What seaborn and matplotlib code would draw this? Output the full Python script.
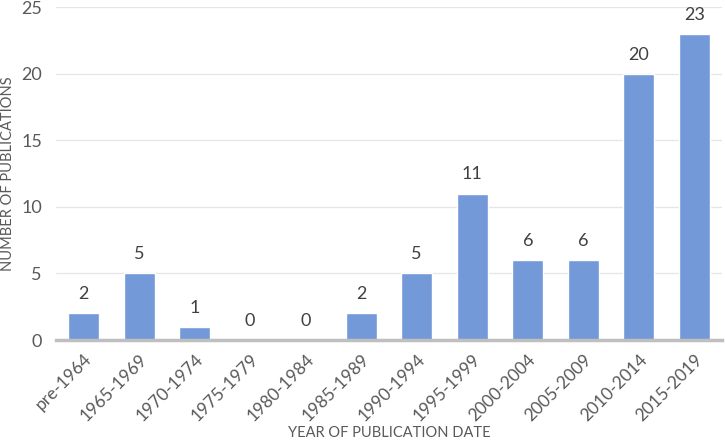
import matplotlib
matplotlib.use("Agg")
import matplotlib.pyplot as plt
import seaborn as sns
import pandas as pd

categories = ["pre-1964", "1965-1969", "1970-1974", "1975-1979", "1980-1984", "1985-1989",
              "1990-1994", "1995-1999", "2000-2004", "2005-2009", "2010-2014", "2015-2019"]
counts = [2, 5, 1, 0, 0, 2, 5, 11, 6, 6, 20, 23]
yticks = [0, 5, 10, 15, 20, 25]

sns.set_theme(style="white")
plt.rcParams['font.family'] = ['Lato', 'DejaVu Sans']

df = pd.DataFrame({"period": categories, "count": counts})
fig = plt.figure(figsize=(7.25, 4.41), dpi=100)
ax = fig.add_axes([0.077, 0.229, 0.919, 0.755])
bar_color = "#7399D8"
sns.barplot(data=df, x="period", y="count", color=bar_color, saturation=1, width=0.56, ax=ax, zorder=3)

txt = "#595959"
ax.set_ylim(0, 25)
ax.set_yticks(yticks)
ax.set_yticklabels([str(v) for v in yticks], fontsize=13, color=txt)
ax.yaxis.grid(True, color="#e6e6e6", linewidth=0.9, zorder=0)
ax.set_axisbelow(True)
for s in ["top", "right", "left"]:
    ax.spines[s].set_visible(False)
ax.spines["bottom"].set_color("#bfbfbf")
ax.spines["bottom"].set_linewidth(2.5)
ax.spines["bottom"].set_zorder(4)
ax.tick_params(axis="y", length=0, pad=10)
ax.tick_params(axis="x", length=0, pad=8)
ax.set_xticks(range(len(categories)))
ax.set_xticklabels(categories, rotation=45, ha="right", rotation_mode="anchor", fontsize=12.5, color=txt)
ax.set_xlim(-0.5, len(categories) - 0.5)

for c in ax.containers:
    ax.bar_label(c, labels=[str(v) for v in counts], padding=8, fontsize=13, color="#404040")

ax.set_xlabel("YEAR OF PUBLICATION DATE", fontsize=10.5, color=txt)
ax.xaxis.set_label_coords(0.5, -0.258)
ax.set_ylabel("NUMBER OF PUBLICATIONS", fontsize=10.5, color=txt)
ax.yaxis.set_label_coords(-0.062, 0.5)
fig.savefig("out.png", dpi=100)
